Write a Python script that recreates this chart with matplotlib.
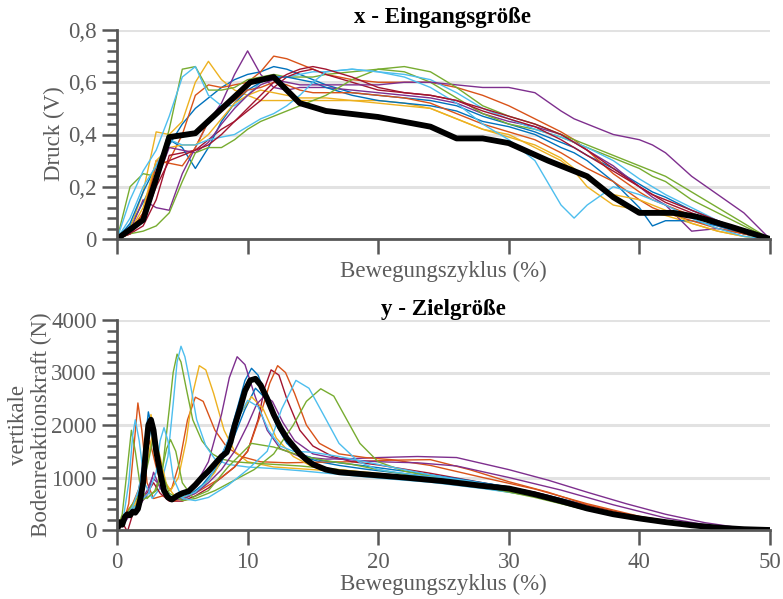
import matplotlib
matplotlib.use("Agg")
import matplotlib.pyplot as plt
from matplotlib.ticker import MultipleLocator, FixedLocator

plt.rcParams["font.family"] = ["Liberation Serif", "DejaVu Serif"]

# MATLAB-style line colours
BLUE, ORANGE, YELLOW, PURPLE = "#0072BD", "#D95319", "#EDB120", "#7E2F8E"
GREEN, CYAN, RED = "#77AC30", "#4DBEEE", "#A2142F"

# ---------------- Eingangsgröße: Druck (V) ----------------
cycle_top = [0, 1, 2, 3, 4, 5, 6, 7, 8, 9, 10, 11, 12, 13, 14, 15, 16, 18, 20, 22,
             24, 26, 28, 30, 32, 34, 35, 36, 38, 40, 41, 42, 44, 46, 48, 50]

druck_blue_a = [0, .05, .14, .24, .36, .44, .50, .54, .58, .61, .63, .64, .66, .65, .63, .61, .59, .56, .55, .54,
                .53, .51, .47, .44, .41, .37, .35, .32, .27, .21, .18, .16, .11, .07, .03, 0]
druck_orange_a = [0, .03, .10, .28, .30, .40, .55, .59, .58, .59, .60, .64, .70, .69, .67, .65, .63, .61, .60, .60,
                  .60, .58, .55, .51, .46, .41, .38, .34, .25, .18, .15, .13, .09, .05, .02, 0]
druck_yellow_a = [0, .04, .18, .41, .40, .45, .60, .68, .61, .57, .55, .53, .53, .53, .53, .53, .53, .53, .53, .52,
                  .50, .46, .42, .40, .35, .30, .26, .20, .13, .11, .10, .09, .06, .03, .01, 0]
druck_purple_a = [0, .03, .15, .12, .11, .25, .35, .45, .52, .63, .72, .63, .58, .57, .58, .58, .58, .57, .56, .55,
                  .54, .52, .48, .45, .43, .40, .37, .34, .28, .20, .16, .13, .03, .04, .02, 0]
druck_green_a = [0, .20, .25, .24, .42, .65, .66, .57, .57, .58, .61, .62, .63, .62, .62, .62, .63, .64, .65, .64,
                 .60, .54, .48, .44, .42, .39, .37, .35, .31, .27, .24, .22, .15, .10, .05, 0]
druck_cyan_a = [0, .15, .26, .34, .47, .62, .66, .55, .51, .51, .55, .60, .62, .62, .63, .64, .64, .65, .64, .63,
                .61, .56, .50, .46, .42, .39, .37, .35, .30, .23, .20, .17, .12, .07, .03, 0]
druck_red_a = [0, .02, .05, .15, .32, .33, .34, .38, .42, .45, .49, .53, .58, .62, .64, .65, .63, .60, .57, .56,
               .55, .53, .49, .46, .43, .38, .35, .32, .26, .20, .17, .15, .11, .07, .03, 0]
druck_blue_b = [0, .06, .18, .28, .38, .35, .27, .35, .45, .52, .57, .60, .62, .62, .61, .60, .58, .55, .53, .52,
                .51, .49, .45, .43, .40, .35, .33, .30, .22, .12, .05, .07, .07, .05, .02, 0]
druck_orange_b = [0, .02, .10, .30, .29, .28, .35, .45, .50, .53, .57, .58, .60, .59, .57, .56, .56, .56, .55, .54,
                  .52, .48, .44, .41, .38, .33, .30, .27, .22, .15, .12, .10, .07, .04, .02, 0]
druck_purple_b = [0, .02, .08, .22, .35, .34, .33, .37, .44, .50, .55, .59, .61, .60, .59, .59, .59, .59, .59, .60,
                  .60, .59, .58, .58, .56, .49, .46, .44, .40, .38, .36, .33, .24, .17, .10, 0]
druck_green_b = [0, .02, .03, .05, .10, .22, .33, .35, .35, .38, .42, .45, .47, .49, .51, .53, .55, .61, .65, .66,
                 .64, .58, .51, .47, .44, .40, .38, .36, .32, .28, .26, .24, .18, .12, .06, 0]
druck_cyan_b = [0, .08, .20, .28, .38, .36, .36, .38, .39, .40, .43, .46, .48, .51, .55, .60, .64, .65, .64, .62,
                .58, .52, .44, .38, .30, .13, .08, .13, .20, .17, .15, .13, .08, .04, .01, 0]
druck_yellow_b = [0, .03, .12, .30, .35, .36, .36, .40, .46, .52, .55, .57, .56, .55, .54, .54, .54, .53, .52, .51,
                  .50, .46, .42, .39, .36, .31, .27, .23, .17, .15, .13, .11, .06, .03, .01, 0]
druck_red_b = [0, .02, .07, .20, .30, .32, .34, .36, .40, .45, .50, .55, .60, .63, .65, .66, .65, .62, .58, .56,
               .55, .53, .50, .47, .44, .40, .37, .34, .27, .20, .17, .14, .10, .06, .03, 0]

druck_series = [
    (druck_blue_a, BLUE), (druck_orange_a, ORANGE), (druck_yellow_a, YELLOW),
    (druck_purple_a, PURPLE), (druck_green_a, GREEN), (druck_cyan_a, CYAN),
    (druck_red_a, RED), (druck_blue_b, BLUE), (druck_orange_b, ORANGE),
    (druck_yellow_b, YELLOW), (druck_purple_b, PURPLE), (druck_green_b, GREEN),
    (druck_cyan_b, CYAN), (druck_red_b, RED),
]

druck_ref_x = [0, 2, 4, 6, 10.2, 12, 14, 16, 20, 24, 26, 28, 30, 33, 36, 38, 40, 42.6, 44.4, 47, 50]
druck_ref_y = [0, .073, .39, .405, .60, .62, .52, .49, .467, .43, .385, .385, .367, .30, .24, .16, .10, .10,
               .085, .047, 0]

# ---------------- Zielgröße: vertikale Bodenreaktionskraft (N) ----------------
grf_blue_a_x = [0, 0.5, 1.0, 1.5, 2.0, 2.4, 2.8, 3.3, 3.8, 4.5, 5.5, 6.5, 7.5, 8.5, 9.3, 9.8, 10.3, 10.8, 11.5, 12.3,
                13.2, 14.2, 15.5, 17, 19, 21, 24, 27, 30, 33, 36, 39, 42, 45, 48, 50]
grf_blue_a_y = [0, 200, 350, 500, 1300, 2250, 1800, 1000, 650, 580, 650, 850, 1150, 1700, 2400, 2850, 3080, 2950,
                2500, 2000, 1600, 1400, 1300, 1230, 1160, 1100, 1020, 930, 820, 660, 470, 300, 160, 60, 10, 0]

grf_orange_a_x = [0, 0.5, 0.9, 1.3, 1.6, 1.9, 2.3, 2.8, 3.5, 4.2, 4.8, 5.4, 6.0, 6.6, 7.5, 8.4, 9.5, 11, 13, 15,
                  18, 21, 24, 27, 30, 33, 36, 39, 42, 45, 48, 50]
grf_orange_a_y = [0, 150, 500, 1600, 2420, 1900, 900, 600, 650, 800, 1300, 2100, 2530, 2450, 1900, 1580, 1400,
                  1300, 1280, 1290, 1300, 1330, 1340, 1150, 920, 720, 480, 300, 160, 60, 10, 0]

grf_yellow_a_x = [0, 0.6, 1.2, 1.8, 2.3, 2.6, 3.0, 3.5, 4.1, 4.7, 5.3, 5.8, 6.3, 6.8, 7.4, 8.2, 9, 10, 12, 15,
                  18, 21, 24, 27, 30, 33, 36, 39, 42, 45, 48, 50]
grf_yellow_a_y = [0, 250, 450, 700, 1500, 2200, 1700, 1000, 750, 1000, 1700, 2600, 3130, 3050, 2600, 1900, 1500,
                  1300, 1200, 1150, 1100, 1040, 970, 880, 780, 630, 450, 280, 140, 50, 10, 0]

grf_purple_a_x = [0, 0.6, 1.2, 1.8, 2.3, 2.7, 3.1, 3.6, 4.2, 5, 6, 7, 8, 8.6, 9.2, 9.8, 10.5, 11.5, 12.5, 14,
                  16, 18, 20, 23, 26, 30, 33, 36, 39, 42, 45, 48, 50]
grf_purple_a_y = [0, 200, 400, 550, 750, 1000, 900, 700, 600, 650, 850, 1300, 2200, 2900, 3300, 3150, 2600, 1900,
                  1550, 1400, 1350, 1360, 1380, 1400, 1380, 1150, 950, 720, 500, 300, 140, 30, 0]

grf_green_a_x = [0, 0.4, 0.8, 1.1, 1.4, 1.8, 2.3, 2.9, 3.5, 4.0, 4.3, 4.6, 4.9, 5.3, 5.8, 6.5, 7.3, 8, 9, 10,
                 12, 14, 17, 20, 24, 28, 32, 36, 40, 44, 48, 50]
grf_green_a_y = [0, 300, 1200, 1900, 1500, 800, 600, 750, 1200, 2300, 3000, 3350, 3200, 2700, 2100, 1700, 1450,
                 1350, 1300, 1280, 1250, 1220, 1150, 1060, 930, 800, 640, 380, 200, 90, 20, 0]

grf_cyan_a_x = [0, 0.5, 0.9, 1.2, 1.4, 1.7, 2.1, 2.7, 3.3, 3.9, 4.3, 4.6, 4.9, 5.2, 5.6, 6.1, 6.8, 7.5, 8.5, 10,
                12, 14, 17, 20, 24, 28, 32, 36, 40, 44, 48, 50]
grf_cyan_a_y = [0, 250, 900, 1800, 2100, 1700, 900, 600, 800, 1400, 2400, 3200, 3500, 3300, 2800, 2100, 1600,
                1350, 1250, 1200, 1170, 1130, 1060, 990, 910, 790, 650, 400, 200, 80, 15, 0]

grf_red_a_x = [0, 0.5, 0.8, 1.2, 1.8, 2.3, 2.8, 3.3, 4, 5, 6, 7, 8, 9, 10, 10.8, 11.3, 11.8, 12.4, 13,
               14, 15, 16.5, 18, 20, 24, 28, 32, 36, 40, 44, 48, 50]
grf_red_a_y = [0, 100, -30, 300, 500, 700, 900, 700, 550, 550, 650, 800, 1000, 1200, 1500, 2100, 2700, 3050,
               2950, 2500, 1900, 1600, 1400, 1300, 1240, 1080, 900, 720, 460, 240, 100, 20, 0]

grf_blue_b_x = [0, 0.5, 1.0, 1.6, 2.1, 2.5, 2.9, 3.4, 4.0, 4.8, 5.8, 7, 8, 9, 9.8, 10.6, 11.4, 12.2, 13, 14,
                15.5, 17, 19, 22, 26, 30, 34, 38, 42, 46, 50]
grf_blue_b_y = [0, 200, 300, 450, 1200, 2150, 1600, 900, 620, 600, 700, 950, 1300, 1800, 2300, 2700, 2500, 2000,
                1650, 1450, 1330, 1280, 1220, 1120, 980, 820, 580, 310, 140, 40, 0]

grf_orange_b_x = [0, 0.6, 1.2, 1.7, 2.1, 2.5, 3, 3.6, 4.3, 5, 6, 7, 8, 9, 10, 11, 11.7, 12.3, 12.9, 13.6,
                  14.5, 15.5, 17, 19, 21, 24, 28, 32, 36, 40, 44, 48, 50]
grf_orange_b_y = [0, 300, 500, 800, 1300, 1700, 1200, 700, 550, 600, 700, 850, 1000, 1200, 1500, 2200, 2800,
                  3130, 3000, 2600, 2000, 1650, 1450, 1380, 1340, 1230, 1000, 780, 500, 260, 100, 20, 0]

grf_yellow_b_x = [0, 0.6, 1.2, 1.8, 2.4, 2.8, 3.2, 3.8, 4.5, 5.5, 6.5, 7.5, 8.5, 9.4, 10.3, 11.2, 12.2, 13.5,
                  15, 17, 20, 24, 28, 32, 36, 40, 44, 48, 50]
grf_yellow_b_y = [0, 200, 400, 650, 1400, 1950, 1500, 850, 620, 640, 800, 1100, 1600, 2200, 2540, 2300, 1750,
                  1400, 1200, 1150, 1080, 980, 850, 680, 450, 230, 80, 15, 0]

grf_purple_b_x = [0, 0.6, 1.2, 1.8, 2.4, 2.8, 3.3, 4, 5, 6, 7, 8, 9, 10, 10.7, 11.3, 11.9, 12.7, 13.6, 15,
                  17, 20, 23, 26, 30, 34, 38, 42, 46, 50]
grf_purple_b_y = [0, 150, 350, 500, 700, 1100, 800, 600, 580, 700, 900, 1150, 1500, 2000, 2400, 2550, 2450, 2050,
                  1700, 1450, 1350, 1300, 1280, 1220, 1000, 760, 480, 230, 60, 0]

grf_green_b_x = [0, 0.6, 1.2, 1.8, 2.5, 3.0, 3.5, 3.8, 4.1, 4.5, 5, 5.8, 7, 8.5, 10.3, 12, 14, 16, 18, 20,
                 24, 28, 32, 36, 40, 44, 48, 50]
grf_green_b_y = [0, 200, 400, 550, 650, 750, 1200, 1550, 1720, 1500, 900, 620, 750, 1200, 1650, 1580, 1420,
                 1320, 1250, 1150, 980, 830, 620, 380, 190, 80, 15, 0]

grf_green_c_x = [0, 0.6, 1.2, 1.8, 2.4, 2.8, 3.3, 4, 5, 6, 7.5, 9, 10.5, 12, 13.5, 14.5, 15.6, 16.6, 17.6, 18.6,
                 20, 22, 25, 28, 32, 36, 40, 44, 48, 50]
grf_green_c_y = [0, 250, 500, 700, 1300, 1800, 1200, 700, 560, 600, 750, 950, 1150, 1450, 2000, 2450, 2690, 2550,
                 2100, 1650, 1300, 1120, 980, 850, 660, 400, 210, 90, 20, 0]

grf_cyan_b_x = [0, 0.6, 1.2, 1.8, 2.4, 3.0, 3.3, 3.6, 3.9, 4.3, 5, 6, 7, 8.5, 10, 11.5, 12.6, 13.7, 14.7, 15.8,
                17, 18.5, 20, 23, 27, 31, 35, 39, 43, 47, 50]
grf_cyan_b_y = [0, 200, 400, 550, 700, 1100, 1700, 1950, 1700, 1000, 600, 560, 620, 850, 1150, 1500, 2300, 2850,
                2700, 2200, 1650, 1300, 1150, 1040, 930, 760, 480, 270, 120, 30, 0]

grf_cyan_c_x = [0, 0.6, 1.2, 1.7, 2.2, 2.6, 3.0, 3.5, 4.2, 5, 6, 7, 8, 9, 10, 10.8, 11.6, 12.5, 13.5, 15,
                17, 20, 24, 28, 32, 36, 40, 44, 48, 50]
grf_cyan_c_y = [0, 200, 450, 800, 1500, 1900, 1400, 800, 620, 620, 720, 950, 1400, 2000, 2470, 2350, 1900, 1600,
                1500, 1480, 1400, 1250, 1050, 880, 680, 420, 220, 90, 20, 0]

grf_series = [
    (grf_blue_a_x, grf_blue_a_y, BLUE), (grf_orange_a_x, grf_orange_a_y, ORANGE),
    (grf_yellow_a_x, grf_yellow_a_y, YELLOW), (grf_purple_a_x, grf_purple_a_y, PURPLE),
    (grf_green_a_x, grf_green_a_y, GREEN), (grf_cyan_a_x, grf_cyan_a_y, CYAN),
    (grf_red_a_x, grf_red_a_y, RED), (grf_blue_b_x, grf_blue_b_y, BLUE),
    (grf_orange_b_x, grf_orange_b_y, ORANGE), (grf_yellow_b_x, grf_yellow_b_y, YELLOW),
    (grf_purple_b_x, grf_purple_b_y, PURPLE), (grf_green_b_x, grf_green_b_y, GREEN),
    (grf_green_c_x, grf_green_c_y, GREEN), (grf_cyan_b_x, grf_cyan_b_y, CYAN),
    (grf_cyan_c_x, grf_cyan_c_y, CYAN),
]

grf_ref_x = [0, 0.2, 0.4, 0.6, 0.8, 1.0, 1.2, 1.4, 1.6, 1.8, 2.0, 2.2, 2.4, 2.6, 2.8, 3.0, 3.3, 3.6, 3.9, 4.2,
             4.6, 5.0, 5.5, 6.0, 6.5, 7.0, 7.5, 8.0, 8.4, 8.7, 9.0, 9.4, 9.8, 10.2, 10.6, 11.0, 11.5, 12.0,
             12.5, 13.0, 13.5, 14.0, 14.5, 15.0, 16.0, 17.0, 18.0, 20, 22, 25, 28, 30, 32, 34, 36, 38, 40,
             42, 44, 46, 48, 50]
grf_ref_y = [0, 150, 100, 250, 300, 280, 350, 330, 400, 600, 900, 1500, 2000, 2100, 1900, 1500, 1100, 750, 620,
             580, 650, 700, 740, 860, 1000, 1120, 1260, 1400, 1480, 1680, 1980, 2300, 2650, 2850, 2880, 2760,
             2500, 2200, 1950, 1750, 1600, 1450, 1340, 1250, 1150, 1100, 1080, 1040, 1000, 930, 840, 790, 680,
             550, 410, 300, 220, 150, 90, 45, 15, 0]

x_ticks = [0, 10, 20, 30, 40, 50]
druck_ticks = [0, 0.2, 0.4, 0.6, 0.8]
druck_labels = ["0", "0,2", "0,4", "0,6", "0,8"]
grf_ticks = [0, 1000, 2000, 3000, 4000]
grf_labels = ["0", "1000", "2000", "3000", "4000"]

# ---------------- figure ----------------
W, H = 783, 599
fig = plt.figure(figsize=(W / 100, H / 100), dpi=100)
fig.patch.set_facecolor("white")

AX_L, AX_R = 117, 770
ax1 = fig.add_axes([AX_L / W, (H - 239) / H, (AX_R - AX_L) / W, (239 - 30) / H])
ax2 = fig.add_axes([AX_L / W, (H - 530) / H, (AX_R - AX_L) / W, (530 - 320) / H])

SPINE = "#575757"
TXT = "#5c5c5c"
FS = 16.5


def style(ax):
    for s in ("top", "right"):
        ax.spines[s].set_visible(False)
    for s in ("left", "bottom"):
        ax.spines[s].set_color(SPINE)
        ax.spines[s].set_linewidth(2.0)
    ax.set_xlim(0, 50)
    ax.xaxis.set_major_locator(FixedLocator(x_ticks))
    ax.tick_params(which="major", direction="out", length=11, width=1.8, color=SPINE,
                   labelcolor=TXT, labelsize=FS)
    ax.tick_params(which="minor", direction="out", length=7, width=1.8, color=SPINE)
    ax.tick_params(axis="y", which="major", pad=3.5)
    ax.tick_params(axis="x", which="major", pad=5)
    ax.grid(axis="y", which="major", color="#e2e2e2", linewidth=2.2)
    ax.set_axisbelow(True)


style(ax1)
style(ax2)

for vals, col in druck_series:
    ax1.plot(cycle_top, vals, color=col, linewidth=1.0, solid_joinstyle="round")
ax1.plot(druck_ref_x, druck_ref_y, color="black", linewidth=4.2, solid_joinstyle="round",
         solid_capstyle="round")
ax1.set_ylim(0, 0.8)
ax1.set_yticks(druck_ticks)
ax1.set_yticklabels(druck_labels)
ax1.yaxis.set_minor_locator(MultipleLocator(0.04))
ax1.tick_params(axis="x", labelbottom=False)

for xs, ys, col in grf_series:
    ax2.plot(xs, ys, color=col, linewidth=1.0, solid_joinstyle="round")
ax2.plot(grf_ref_x, grf_ref_y, color="black", linewidth=4.2, solid_joinstyle="round",
         solid_capstyle="round")
ax2.set_ylim(0, 4000)
ax2.set_yticks(grf_ticks)
ax2.set_yticklabels(grf_labels)
ax2.yaxis.set_minor_locator(MultipleLocator(200))
ax2.set_xticklabels([str(t) for t in x_ticks])

# titles and axis labels
fig.text(443 / W, 1 - 18 / H, "x - Eingangsgröße", ha="center", va="center",
         fontsize=FS, fontweight="bold", color="black")
fig.text(443 / W, 1 - 310 / H, "y - Zielgröße", ha="center", va="center",
         fontsize=FS, fontweight="bold", color="black")
fig.text(443 / W, 1 - 271 / H, "Bewegungszyklus (%)", ha="center", va="center",
         fontsize=FS, color=TXT)
fig.text(443 / W, 1 - 584 / H, "Bewegungszyklus (%)", ha="center", va="center",
         fontsize=FS, color=TXT)
fig.text(54 / W, 1 - 134 / H, "Druck (V)", ha="center", va="center", rotation=90,
         fontsize=FS, color=TXT)
fig.text(30 / W, 1 - 425 / H, "vertikale\nBodenreaktionskraft (N)", ha="center", va="center",
         rotation=90, fontsize=FS, color=TXT, linespacing=1.1, multialignment="center")

fig.savefig("out.png", dpi=100)
